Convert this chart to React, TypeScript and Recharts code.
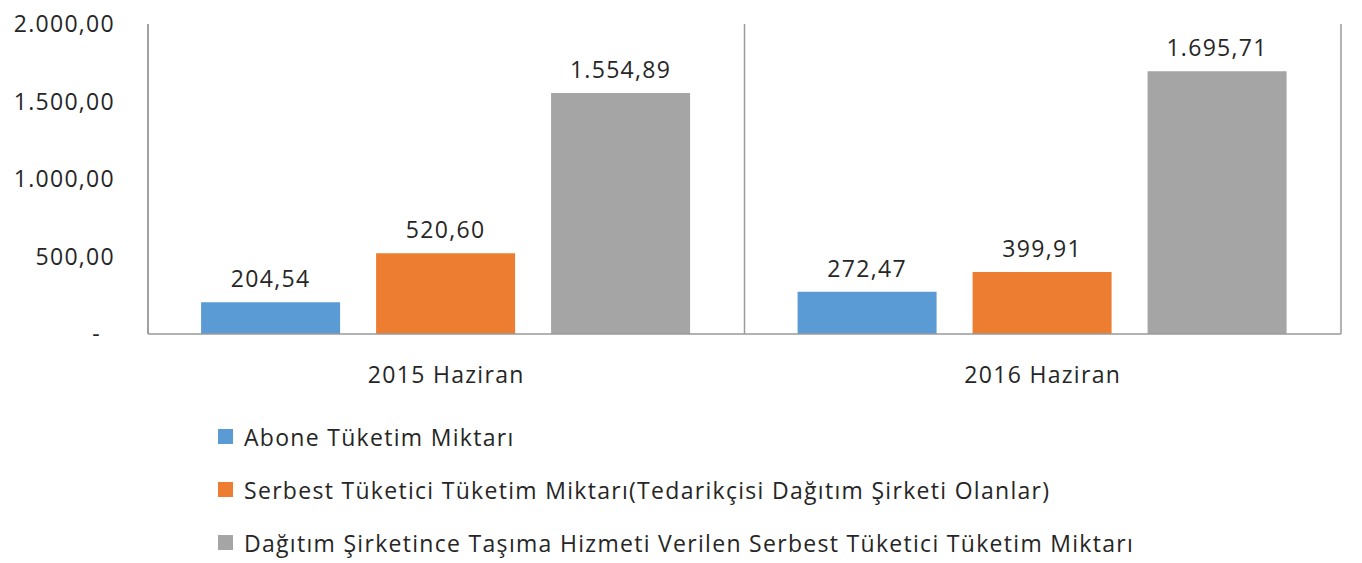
import React from 'react';
import { BarChart, Bar, XAxis, YAxis, CartesianGrid, Legend, LabelList } from 'recharts';

// Haziran dönemleri tüketim miktarları
const categories = ['2015 Haziran', '2016 Haziran'];
const aboneValues = [204.54, 272.47];
const serbestValues = [520.6, 399.91];
const tasimaValues = [1554.89, 1695.71];
const yTicks = [0, 500, 1000, 1500, 2000];

const seriesNames = [
  'Abone Tüketim Miktarı',
  'Serbest Tüketici Tüketim Miktarı(Tedarikçisi Dağıtım Şirketi Olanlar)',
  'Dağıtım Şirketince Taşıma Hizmeti Verilen Serbest Tüketici Tüketim Miktarı',
];
const seriesColors = ['#5B9BD5', '#ED7D31', '#A5A5A5'];

const data = categories.map((name, i) => ({
  name,
  abone: aboneValues[i],
  serbest: serbestValues[i],
  tasima: tasimaValues[i],
}));

const FONT = '"Open Sans", sans-serif';
const TEXT = '#262626';
const LINE = '#9a9a9a';
const FS = 23;
const LS = 1.3;

const trNumber = (v: number) =>
  v.toLocaleString('tr-TR', { minimumFractionDigits: 2, maximumFractionDigits: 2 });

function YTick(props: any) {
  const { x, y, payload } = props;
  const isZero = payload.value === 0;
  return (
    <text
      x={isZero ? x - 14 : x}
      y={y}
      dy={8}
      textAnchor="end"
      fill={TEXT}
      fontSize={FS}
      fontFamily={FONT}
      letterSpacing={LS}
    >
      {isZero ? '-' : trNumber(payload.value)}
    </text>
  );
}

function LegendContent() {
  return (
    <div style={{ fontFamily: FONT, fontSize: FS, color: TEXT, letterSpacing: LS }}>
      {seriesNames.map((name, i) => (
        <div key={name} style={{ height: 53, display: 'flex', alignItems: 'center' }}>
          <span
            style={{
              width: 15,
              height: 15,
              background: seriesColors[i],
              display: 'inline-block',
              marginRight: 11,
            }}
          />
          <span>{name}</span>
        </div>
      ))}
    </div>
  );
}

export default function App() {
  return (
    <div style={{ position: 'absolute', left: 0, top: 0, width: 1362, height: 563, background: '#fff' }}>
      <BarChart
        width={1362}
        height={563}
        data={data}
        margin={{ top: 24, right: 21, left: 0, bottom: 19 }}
        barCategoryGap="8.9%"
        barGap={36}
      >
        <CartesianGrid
          horizontal={false}
          stroke={LINE}
          strokeWidth={1.5}
          verticalCoordinatesGenerator={({ offset }: any) => [
            offset.left,
            offset.left + offset.width / 2,
            offset.left + offset.width,
          ]}
        />
        <XAxis
          dataKey="name"
          height={60}
          axisLine={{ stroke: LINE, strokeWidth: 1.5 }}
          tickLine={false}
          tickMargin={27}
          tick={{ fill: TEXT, fontSize: FS, fontFamily: FONT, letterSpacing: LS }}
        />
        <YAxis
          width={148}
          domain={[0, 2000]}
          ticks={yTicks}
          axisLine={{ stroke: LINE, strokeWidth: 1.5 }}
          tickLine={false}
          tickSize={0}
          tickMargin={33}
          tick={<YTick />}
        />
        <Legend
          height={150}
          content={<LegendContent />}
          wrapperStyle={{ left: 218, top: 410, bottom: 'auto', width: 1130 }}
        />
        {(['abone', 'serbest', 'tasima'] as const).map((key, i) => (
          <Bar key={key} dataKey={key} name={seriesNames[i]} fill={seriesColors[i]} isAnimationActive={false}>
            <LabelList
              dataKey={key}
              position="top"
              offset={15}
              formatter={(v: any) => trNumber(Number(v))}
              style={{ fill: TEXT, fontSize: FS, fontFamily: FONT, letterSpacing: LS }}
            />
          </Bar>
        ))}
      </BarChart>
    </div>
  );
}
